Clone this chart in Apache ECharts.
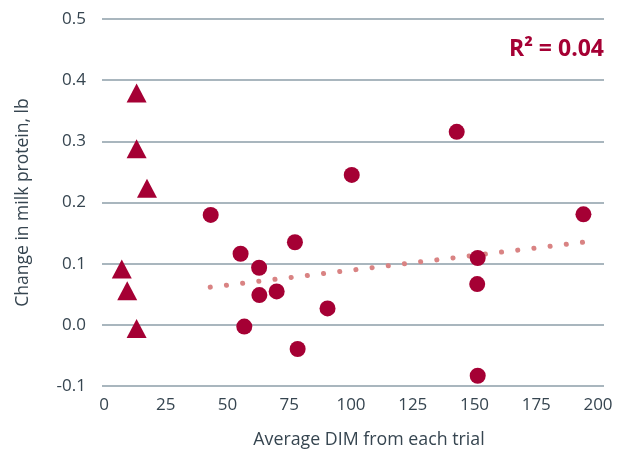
<!DOCTYPE html>
<html>
<head>
<meta charset="utf-8">
<script src="https://cdn.jsdelivr.net/npm/echarts@6/dist/echarts.min.js"></script>
<style>html,body{margin:0;padding:0;background:#fff;}#c{width:624px;height:454px;}</style>
</head>
<body>
<div id="c"></div>
<script>
// Data
var triX = [13.2, 13.2, 17.4, 7.2, 9.4, 13.2];
var triY = [0.378, 0.286, 0.221, 0.088, 0.052, -0.010];
var circX = [43.2, 142.8, 100.3, 194.1, 55.3, 77.3, 62.8, 62.9, 69.9, 56.8, 78.4, 90.5, 151.3, 151.1, 151.3];
var circY = [0.177, 0.314, 0.243, 0.178, 0.113, 0.132, 0.090, 0.045, 0.051, -0.007, -0.044, 0.023, 0.106, 0.063, -0.088];
var trendX = [43, 194];
var trendY = [0.058, 0.132];
var xTicks = [0, 25, 50, 75, 100, 125, 150, 175, 200];
var yTicks = [-0.1, 0.0, 0.1, 0.2, 0.3, 0.4, 0.5];
var r2Label = 'R² = 0.04';
var xTitle = 'Average DIM from each trial';
var yTitle = 'Change in milk protein, lb';

function zip(a, b) { return a.map(function (v, i) { return [v, b[i]]; }); }

var RED = '#a50034';
var TXT = '#364550';
var FONT = '"Open Sans", sans-serif';

var chart = echarts.init(document.getElementById('c'), null, { renderer: 'canvas' });
chart.setOption({
  animation: false,
  backgroundColor: '#ffffff',
  grid: [
    { left: 102, width: 502, top: 19, height: 367 },
    { left: 104, width: 494, top: 19, height: 367 }
  ],
  xAxis: [
    { gridIndex: 0, type: 'value', min: 0, max: 1, show: false },
    {
      gridIndex: 1, type: 'value', min: xTicks[0], max: xTicks[xTicks.length - 1], interval: 25,
      axisLine: { show: false }, axisTick: { show: false }, splitLine: { show: false },
      axisLabel: { color: TXT, fontSize: 17, fontFamily: FONT, margin: 14 },
      name: xTitle, nameLocation: 'middle', nameGap: 48,
      nameTextStyle: { color: TXT, fontSize: 17.8, fontFamily: FONT, padding: [0, 0, 0, 36] }
    }
  ],
  yAxis: [
    {
      gridIndex: 0, type: 'value', min: yTicks[0], max: yTicks[yTicks.length - 1], interval: 0.1,
      axisLine: { show: false }, axisTick: { show: false },
      splitLine: { lineStyle: { color: '#8d9ea8', width: 1.5 } },
      axisLabel: { color: TXT, fontSize: 17, fontFamily: FONT, margin: 16,
        formatter: function (v) { return v.toFixed(1); } },
      name: yTitle, nameLocation: 'middle', nameGap: 70, nameRotate: 90,
      nameTextStyle: { color: TXT, fontSize: 17.5, fontFamily: FONT }
    },
    { gridIndex: 1, type: 'value', min: yTicks[0], max: yTicks[yTicks.length - 1], show: false }
  ],
  graphic: [
    {
      type: 'text', right: 20, top: 38, z: 10,
      style: { text: r2Label, font: 'bold 23px ' + FONT, fill: RED }
    }
  ],
  series: [
    {
      type: 'line', xAxisIndex: 1, yAxisIndex: 1, z: 1,
      data: zip(trendX, trendY), symbol: 'none', silent: true,
      lineStyle: { color: '#d98383', width: 5, type: [0.1, 16.2], cap: 'round' }
    },
    {
      type: 'scatter', xAxisIndex: 1, yAxisIndex: 1, z: 3,
      data: zip(circX, circY), symbol: 'circle', symbolSize: 16,
      itemStyle: { color: RED, opacity: 1 }
    },
    {
      type: 'scatter', xAxisIndex: 1, yAxisIndex: 1, z: 3,
      data: zip(triX, triY), symbol: 'triangle', symbolSize: [20, 19],
      itemStyle: { color: RED, opacity: 1 }
    }
  ]
});
</script>
</body>
</html>
